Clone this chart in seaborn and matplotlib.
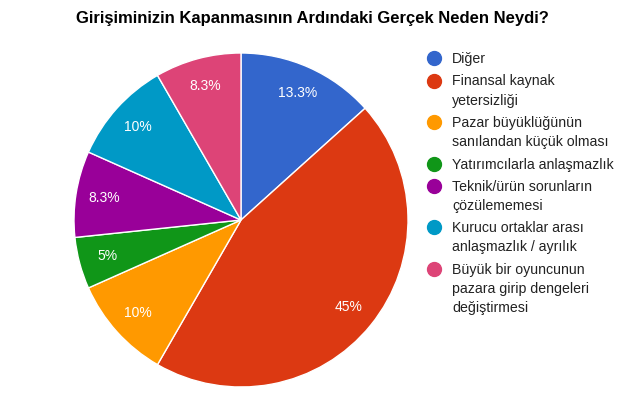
import matplotlib
matplotlib.use("Agg")
import matplotlib.pyplot as plt
import seaborn as sns

categories = ["Diğer", "Finansal kaynak\nyetersizliği", "Pazar büyüklüğünün\nsanılandan küçük olması",
              "Yatırımcılarla anlaşmazlık", "Teknik/ürün sorunların\nçözülememesi",
              "Kurucu ortaklar arası\nanlaşmazlık / ayrılık",
              "Büyük bir oyuncunun\npazara girip dengeleri\ndeğiştirmesi"]
counts = [8, 27, 6, 3, 5, 6, 5]
colors = ["#3366cc", "#dc3912", "#ff9900", "#109618", "#990099", "#0099c6", "#dd4477"]
title = "Girişiminizin Kapanmasının Ardındaki Gerçek Neden Neydi?"

sns.set_theme(style="white")
plt.rcParams['font.family'] = ['Liberation Sans', 'DejaVu Sans']

W, H = 640, 397
fig = plt.figure(figsize=(6.4, 3.97), dpi=100)
cx, cy, r = 241, 220, 167
ax = fig.add_axes([(cx - r) / W, (H - cy - r) / H, 2 * r / W, 2 * r / H])

palette = sns.color_palette(colors)

def fmt(p):
    s = f"{p:.1f}"
    if s.endswith(".0"):
        s = s[:-2]
    return s + "%"

wedges, texts, autotexts = ax.pie(counts, colors=palette, startangle=90, counterclock=False,
                                  autopct=fmt, pctdistance=0.83,
                                  wedgeprops=dict(edgecolor="white", linewidth=1),
                                  textprops=dict(color="white", fontsize=10))
ax.set_xlim(-1, 1)
ax.set_ylim(-1, 1)
ax.set_aspect("equal")
ax.axis("off")

fig.text(76 / W, 1 - 18 / H, title, fontsize=12, fontweight="bold", color="black",
         ha="left", va="center")

# legend
y = 58
line_h = 19
gap = 22.5
for lab, col in zip(categories, palette):
    lines = lab.split("\n")
    fig.lines.append(plt.Line2D([434 / W], [1 - y / H], marker="o", markersize=10,
                                color=col, linestyle="none", transform=fig.transFigure))
    for i, ln in enumerate(lines):
        fig.text(452 / W, 1 - (y + 5 + i * line_h) / H, ln, fontsize=10.2, color="#222222",
                 ha="left", va="baseline")
    y += line_h * (len(lines) - 1) + gap

fig.savefig("out.png", dpi=100, facecolor="white")
